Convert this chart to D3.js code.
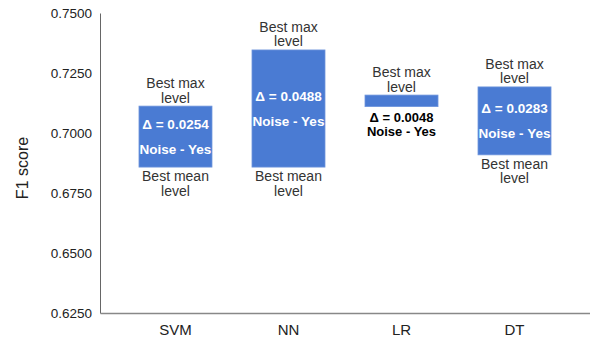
<!DOCTYPE html>
<html>
<head>
<meta charset="utf-8">
<script src="https://cdn.jsdelivr.net/npm/d3@7"></script>
<style>
  body { margin: 0; background: #fff; }
  text { font-family: "Liberation Sans", Arial, sans-serif; }
</style>
</head>
<body>
<script>
// data
var models = ['SVM', 'NN', 'LR', 'DT']
var bestMean = [0.6858, 0.6858, 0.7110, 0.6909]
var bestMax = [0.7112, 0.7346, 0.7158, 0.7192]
var deltas = ['0.0254', '0.0488', '0.0048', '0.0283']
var noise = ['Yes', 'Yes', 'Yes', 'Yes']
var yTicks = [0.625, 0.65, 0.675, 0.7, 0.725, 0.75]

const barColor = '#4a7bd3'
const textColor = '#333'

var width = 590, height = 345
var margin = {left: 100, right: 0, top: 13, bottom: 32}

const svg = d3.select('body').append('svg')
    .attr('width', width)
    .attr('height', height)

const x = d3.scaleBand()
    .domain(models)
    .range([margin.left, width - margin.right])
    .paddingInner(0.354)
    .paddingOuter(0.345)

const y = d3.scaleLinear()
    .domain([0.625, 0.75])
    .range([height - margin.bottom, margin.top])

// y axis
const yAxis = svg.append('g')
    .attr('transform', `translate(${margin.left},0)`)
    .call(d3.axisLeft(y).tickValues(yTicks).tickSize(0).tickPadding(8).tickFormat(d3.format('.4f')))
yAxis.select('.domain').attr('stroke', '#666').attr('stroke-width', 1)
yAxis.selectAll('text')
    .attr('font-size', '13.5px')
    .attr('fill', '#222')
    .style('font-family', '"Liberation Sans", Arial, sans-serif')

// x axis
const xAxis = svg.append('g')
    .attr('transform', `translate(0,${height - margin.bottom})`)
    .call(d3.axisBottom(x).tickSize(0).tickPadding(11))
xAxis.select('.domain').attr('stroke', '#888').attr('stroke-width', 1.5)
xAxis.selectAll('text')
    .attr('font-size', '15px')
    .attr('fill', '#222')
    .style('font-family', '"Liberation Sans", Arial, sans-serif')

svg.append('text')
    .attr('transform', `translate(28,168) rotate(-90)`)
    .attr('text-anchor', 'middle')
    .attr('font-size', '16px')
    .attr('fill', '#222')
    .text('F1 score')

const rows = models.map((m, i) => ({model: m, mean: bestMean[i], max: bestMax[i], delta: deltas[i], noise: noise[i]}))

const groups = svg.selectAll('.bar').data(rows).enter().append('g').attr('class', 'bar')
const cx = d => x(d.model) + x.bandwidth() / 2

groups.append('rect')
    .attr('x', d => x(d.model))
    .attr('y', d => y(d.max))
    .attr('width', x.bandwidth())
    .attr('height', d => y(d.mean) - y(d.max))
    .attr('fill', barColor)
    .attr('stroke', '#6f95dc')
    .attr('stroke-width', 0.8)

// two-line labels, one text per line
function twoLines(sel, lines, baseY, gap, size, weight, fill) {
    lines.forEach((line, i) => {
        sel.append('text')
            .attr('x', cx)
            .attr('y', d => baseY(d) + i * gap)
            .attr('text-anchor', 'middle')
            .attr('font-size', size)
            .attr('font-weight', weight)
            .attr('fill', fill)
            .text(line)
    })
}

// labels above the bars
twoLines(groups, ['Best max', 'level'], d => y(d.max) - 18, 14.5, '14px', 'normal', textColor)

// labels under the bars (LR has its delta text there instead)
twoLines(groups.filter(d => d.model !== 'LR'), ['Best mean', 'level'], d => y(d.mean) + 14, 14.5, '14px', 'normal', textColor)

// delta / noise text inside the bars
twoLines(groups.filter(d => d.model !== 'LR'),
    [d => `Δ = ${d.delta}`, d => `Noise - ${d.noise}`],
    d => (y(d.max) + y(d.mean)) / 2 - 7.5, 25, '13.5px', 'bold', '#fff')

// LR: bar too thin, text below in black
twoLines(groups.filter(d => d.model === 'LR'),
    [d => `Δ = ${d.delta}`, d => `Noise - ${d.noise}`],
    d => y(d.mean) + 15, 14, '13px', 'bold', '#000')
</script>
</body>
</html>
